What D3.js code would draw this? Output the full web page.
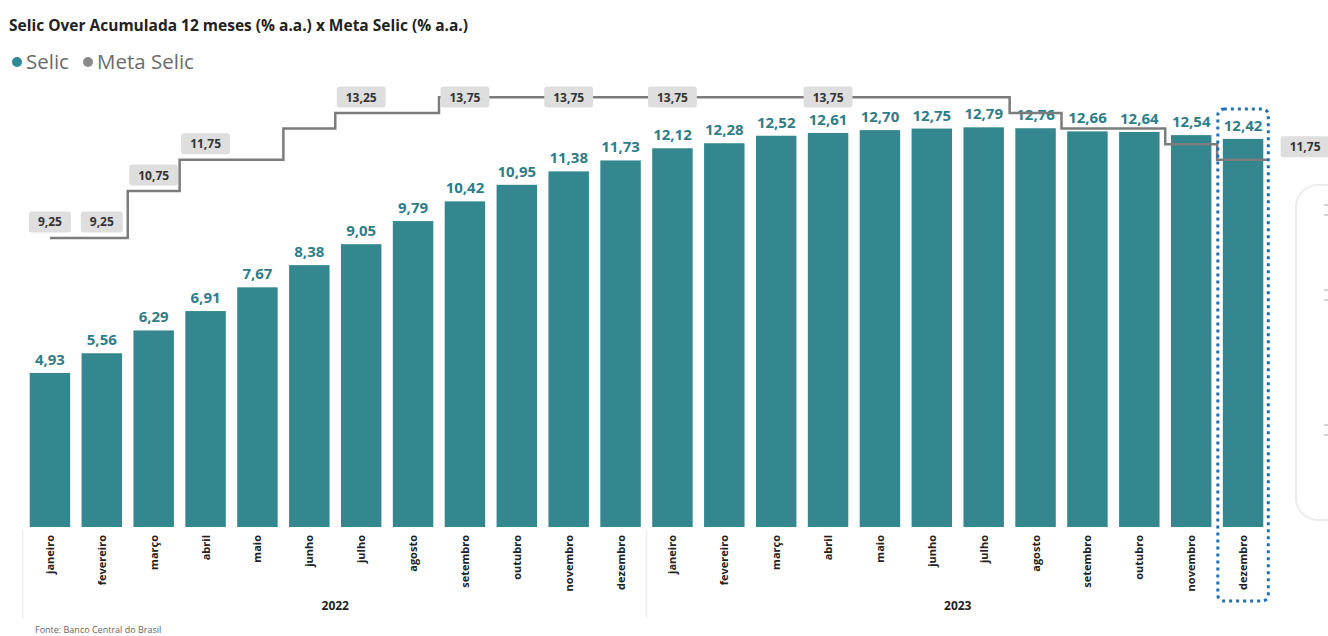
<!DOCTYPE html>
<html>
<head>
<meta charset="utf-8">
<script src="https://cdn.jsdelivr.net/npm/d3@7"></script>
<style>
  body { margin: 0; background: #fff; }
  text { font-family: "Open Sans", sans-serif; }
</style>
</head>
<body>
<div id="chart-area"></div>
<script>
// data
const months = ["janeiro", "fevereiro", "março", "abril", "maio", "junho",
  "julho", "agosto", "setembro", "outubro", "novembro", "dezembro"]
const years = ["2022", "2023"]
const selic = [4.93, 5.56, 6.29, 6.91, 7.67, 8.38, 9.05, 9.79, 10.42, 10.95, 11.38, 11.73,
  12.12, 12.28, 12.52, 12.61, 12.70, 12.75, 12.79, 12.76, 12.66, 12.64, 12.54, 12.42]
const meta = [9.25, 9.25, 10.75, 11.75, 11.75, 12.75, 13.25, 13.25, 13.75, 13.75, 13.75, 13.75,
  13.75, 13.75, 13.75, 13.75, 13.75, 13.75, 13.75, 13.25, 12.75, 12.75, 12.25, 11.75]
// which points of Meta Selic carry a label in the original
const metaLabelIdx = [0, 1, 2, 3, 6, 8, 10, 12, 15]

const fmt = v => d3.format(".2f")(v).replace(".", ",")

const W = 1328, H = 636
const svg = d3.select("#chart-area").append("svg")
  .attr("width", W)
  .attr("height", H)

const keys = []
years.forEach(y => months.forEach(m => keys.push(y + "-" + m)))

const x = d3.scaleBand()
  .domain(keys)
  .range([24, 1269])
  .paddingInner(0.22)
  .paddingOuter(0.11)

const y = d3.scaleLinear()
  .domain([0, 14])
  .range([527, 89.5])

const teal = "#35878f"

// title + legend
svg.append("text")
  .attr("x", 9).attr("y", 31)
  .attr("font-size", 15.5).attr("font-weight", 700).attr("fill", "#222")
  .text("Selic Over Acumulada 12 meses (% a.a.) x Meta Selic (% a.a.)")

const legend = [{ name: "Selic", color: "#2f8a98", x: 17 }, { name: "Meta Selic", color: "#8a8a8a", x: 88 }]
legend.forEach(l => {
  svg.append("circle").attr("cx", l.x).attr("cy", 62).attr("r", 5).attr("fill", l.color)
  svg.append("text")
    .attr("x", l.x + 9).attr("y", 69)
    .attr("font-size", 20.5).attr("fill", "#6b6b6b")
    .text(l.name)
})

// faint card on the right edge
svg.append("rect")
  .attr("x", 1296).attr("y", 185).attr("width", 60).attr("height", 335)
  .attr("rx", 22).attr("fill", "none").attr("stroke", "#ececec").attr("stroke-width", 2)
;[205, 215, 290, 300, 425, 435].forEach(t => {
  svg.append("line").attr("x1", 1324).attr("x2", 1328).attr("y1", t).attr("y2", t)
    .attr("stroke", "#aaa").attr("stroke-width", 1)
})

// separators of the year groups
const sepX = [x(keys[0]) - 7, (x(keys[11]) + x.bandwidth() + x(keys[12])) / 2]
sepX.forEach(sx => {
  svg.append("line").attr("x1", sx).attr("x2", sx).attr("y1", 530).attr("y2", 618)
    .attr("stroke", "#eeeeee").attr("stroke-width", 1.5)
})

// bars
svg.selectAll("rect.bar")
  .data(selic)
  .enter().append("rect")
  .attr("class", "bar")
  .attr("x", (d, i) => x(keys[i]))
  .attr("y", d => y(d))
  .attr("width", x.bandwidth())
  .attr("height", d => y(0) - y(d))
  .attr("fill", teal)

svg.selectAll("text.barlabel")
  .data(selic)
  .enter().append("text")
  .attr("class", "barlabel")
  .attr("x", (d, i) => x(keys[i]) + x.bandwidth() / 2)
  .attr("y", d => y(d) - 8)
  .attr("text-anchor", "middle")
  .attr("font-size", 15).attr("font-weight", 700)
  .attr("fill", "#2f7d88")
  .text(d => fmt(d))

// step line for Meta Selic, last step carried to the edge of the band
const pts = meta.map((d, i) => [x(keys[i]) + x.bandwidth() / 2, y(d)])
const lastI = meta.length - 1
pts.push([x(keys[lastI]) + x.bandwidth() + 4, y(meta[lastI])])

const line = d3.line().curve(d3.curveStep)

svg.append("path")
  .datum(pts)
  .attr("d", line)
  .attr("fill", "none")
  .attr("stroke", "#7c7c7c")
  .attr("stroke-width", 2.5)

// labels of the line
function metaLabel(cx, cy, txt) {
  const g = svg.append("g")
  const t = g.append("text")
    .attr("x", cx).attr("y", cy + 4.5)
    .attr("text-anchor", "middle")
    .attr("font-size", 12).attr("font-weight", 700).attr("fill", "#333")
    .text(txt)
  const w = t.node().getComputedTextLength() + 18
  g.insert("rect", "text")
    .attr("x", cx - w / 2).attr("y", cy - 10.5)
    .attr("width", w).attr("height", 21).attr("rx", 3)
    .attr("fill", "#dedede")
}
metaLabelIdx.forEach(i => {
  const cx = x(keys[i]) + x.bandwidth() / 2
  const cy = Math.max(97, y(meta[i]) - 16)
  metaLabel(cx, cy, fmt(meta[i]))
})
metaLabel(x(keys[lastI]) + x.bandwidth() / 2 + 62, y(meta[lastI]) - 13, fmt(meta[lastI]))

// month labels
svg.selectAll("text.month")
  .data(keys)
  .enter().append("text")
  .attr("class", "month")
  .attr("transform", d => `translate(${x(d) + x.bandwidth() / 2 + 4},535) rotate(-90)`)
  .attr("text-anchor", "end")
  .attr("font-size", 11).attr("font-weight", 700).attr("fill", "#222")
  .text(d => d.split("-")[1])

years.forEach((yr, k) => {
  const a = x(keys[k * 12]), b = x(keys[k * 12 + 11]) + x.bandwidth()
  svg.append("text")
    .attr("x", (a + b) / 2).attr("y", 610)
    .attr("text-anchor", "middle")
    .attr("font-size", 12).attr("font-weight", 700).attr("fill", "#222")
    .text(yr)
})

// selected bar outline
svg.append("rect")
  .attr("x", x(keys[lastI]) - 5).attr("y", 109)
  .attr("width", x.bandwidth() + 10).attr("height", 492)
  .attr("rx", 6)
  .attr("fill", "none")
  .attr("stroke", "#1f6fb2")
  .attr("stroke-width", 3)
  .attr("stroke-dasharray", "3,4")

// source
svg.append("text")
  .attr("x", 35).attr("y", 633)
  .attr("font-size", 9).attr("fill", "#666")
  .text("Fonte: Banco Central do Brasil")
</script>
</body>
</html>
